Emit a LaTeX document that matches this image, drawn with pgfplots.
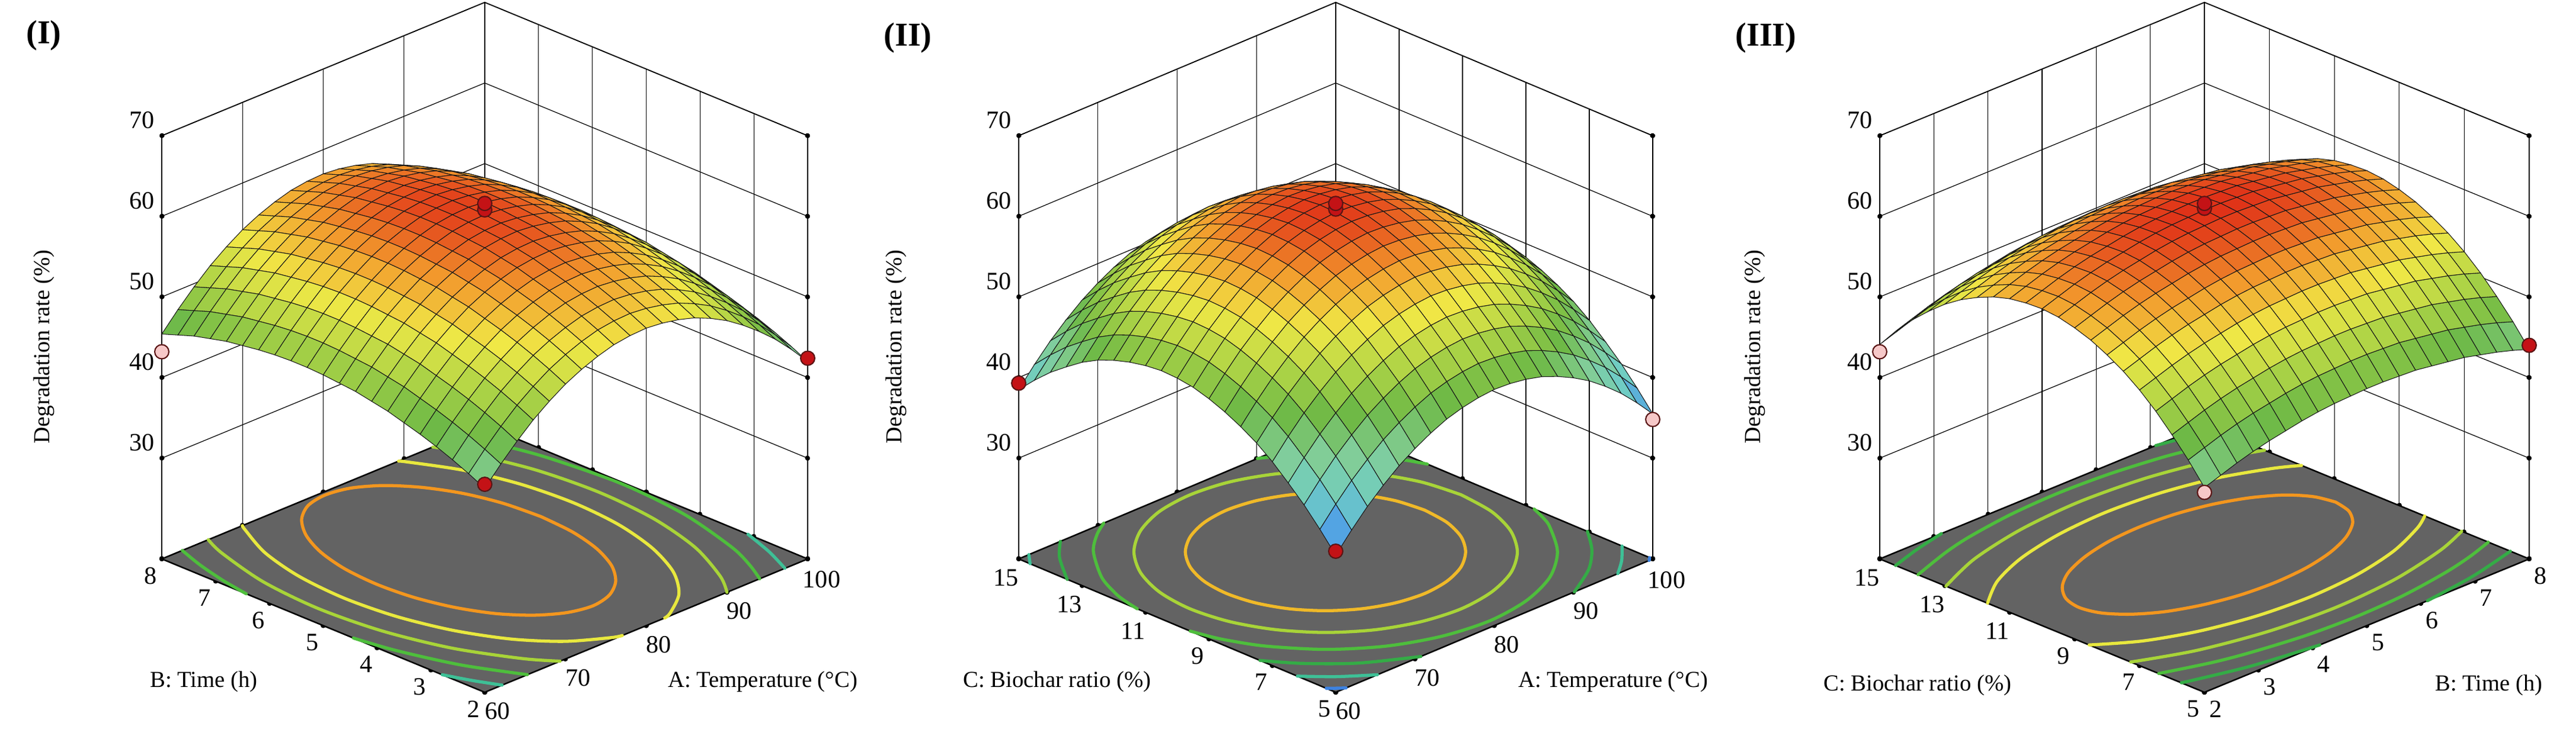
\documentclass[border=0pt]{standalone}
\usepackage{fontspec}
\setmainfont{Liberation Serif}
\usepackage{pgfplots}
\pgfplotsset{compat=1.18}
\definecolor{floorgray}{RGB}{99,99,99}
\definecolor{ptred}{RGB}{196,18,22}
\definecolor{ptpink}{RGB}{246,200,200}
\definecolor{ptedge}{RGB}{90,20,20}
\definecolor{cOr}{RGB}{243,150,30}
\definecolor{cOY}{RGB}{240,185,40}
\definecolor{cYe}{RGB}{232,232,62}
\definecolor{cYG}{RGB}{168,212,56}
\definecolor{cGr}{RGB}{78,190,60}
\definecolor{cGd}{RGB}{52,172,70}
\definecolor{cTe}{RGB}{62,192,150}
\definecolor{cBl}{RGB}{60,130,225}
\pgfplotsset{
  colormap={dx}{rgb255=(55,85,205) rgb255=(80,160,230) rgb255=(112,205,195) rgb255=(130,205,150) rgb255=(110,185,70) rgb255=(175,212,70) rgb255=(240,232,70) rgb255=(242,155,45) rgb255=(222,40,22)},
  rsm/.style={
    at={(0,0)}, anchor=north,
    clip=false,
    zmin=17.5, zmax=70, ztick={30,40,50,60,70},
    grid=major,
    major grid style={black, line width=0.35pt},
    axis line style={black, line width=0.5pt},
    tick pos=left,
    tick style={black, line width=2.3pt, line cap=round},
    major tick length=0.2pt,
    tick label style={font=\fontsize{12}{14}\selectfont},
    /pgf/number format/assume math mode=true,
    colormap name=dx,
    point meta min=33, point meta max=61,
    zticklabel style={yshift=0.26cm},
  },
  ctr/.style={smooth, line width=1.5pt, line cap=round},
  flr/.style={fill=floorgray, draw=black, line width=0.7pt},
  srf/.style={surf, shader=faceted, faceted color=black!90, line width=0.3pt, z buffer=sort, mesh/rows=21, mesh/cols=21},
  dpt/.style={only marks, mark=*, mark size=3.4pt, mark options={draw=ptedge, line width=0.6pt, fill=#1}},
}
\begin{document}
\begin{tikzpicture}
%% ---------------- Panel I ----------------
\begin{scope}[shift={(8.18,-0.04)}]
\begin{axis}[rsm,
  x={(0.13625cm,0.05625cm)}, y={(-0.90833cm,0.375cm)}, z={(0cm,0.136cm)},
  xmin=60, xmax=100, ymin=2, ymax=8,
  xtick={60,70,80,90,100}, ytick={2,3,4,5,6,7,8}]
\addplot3[flr] coordinates {(60,2,17.5) (100,2,17.5) (100,8,17.5) (60,8,17.5) (60,2,17.5)};
\addplot3[ctr, color=cOr] coordinates {(89.83,5.43,17.5) (89.48,6.08,17.5) (88.47,6.68,17.5) (86.85,7.19,17.5) (84.75,7.59,17.5) (82.30,7.84,17.5) (79.67,7.92,17.5) (77.04,7.84,17.5) (74.59,7.59,17.5) (72.48,7.19,17.5) (70.87,6.68,17.5) (69.85,6.08,17.5) (69.51,5.43,17.5) (69.85,4.79,17.5) (70.87,4.19,17.5) (72.48,3.67,17.5) (74.59,3.28,17.5) (77.04,3.03,17.5) (79.67,2.94,17.5) (82.30,3.03,17.5) (84.75,3.28,17.5) (86.85,3.67,17.5) (88.47,4.19,17.5) (89.48,4.79,17.5) (89.83,5.43,17.5)};
\addplot3[ctr, color=cYe] coordinates {(70.00,8.00,17.5) (69.59,7.90,17.5) (67.32,7.18,17.5) (65.90,6.34,17.5) (65.41,5.43,17.5) (65.90,4.53,17.5) (67.32,3.69,17.5) (69.59,2.96,17.5) (72.54,2.41,17.5) (75.98,2.06,17.5) (77.04,2.00,17.5)};
\addplot3[ctr, color=cYe] coordinates {(82.29,2.00,17.5) (83.36,2.06,17.5) (86.79,2.41,17.5) (89.75,2.96,17.5) (92.01,3.69,17.5) (93.44,4.53,17.5) (93.92,5.43,17.5) (93.44,6.34,17.5) (92.01,7.18,17.5) (89.75,7.90,17.5) (89.33,8.00,17.5)};
\addplot3[ctr, color=cYG] coordinates {(65.76,8.00,17.5) (64.59,7.57,17.5) (62.85,6.54,17.5) (62.25,5.43,17.5) (62.85,4.33,17.5) (64.59,3.30,17.5) (67.35,2.42,17.5) (69.33,2.00,17.5)};
\addplot3[ctr, color=cYG] coordinates {(90.00,2.00,17.5) (91.98,2.42,17.5) (94.75,3.30,17.5) (96.49,4.33,17.5) (97.08,5.43,17.5) (96.49,6.54,17.5) (94.75,7.57,17.5) (93.57,8.00,17.5)};
\addplot3[ctr, color=cGr] coordinates {(62.54,8.00,17.5) (61.47,7.51,17.5) (60.57,6.95,17.5) (60.00,6.43,17.5)};
\addplot3[ctr, color=cGr] coordinates {(60.00,4.44,17.5) (60.80,3.75,17.5) (62.64,2.83,17.5) (65.29,2.00,17.5)};
\addplot3[ctr, color=cGr] coordinates {(94.05,2.00,17.5) (95.49,2.40,17.5) (97.06,2.97,17.5) (99.06,4.16,17.5) (99.75,5.43,17.5) (99.06,6.71,17.5) (98.01,7.43,17.5) (96.80,8.00,17.5)};
\addplot3[ctr, color=cTe] coordinates {(60.00,2.79,17.5) (61.00,2.38,17.5) (62.15,2.00,17.5)};
\addplot3[ctr, color=cTe] coordinates {(97.18,2.00,17.5) (98.69,2.52,17.5) (100.00,3.11,17.5)};
\addplot3[ctr, color=cTe] coordinates {(100.00,7.75,17.5) (99.50,8.00,17.5)};
\addplot3[srf] coordinates {
(60,2,42.8) (62,2,45.0) (64,2,47.0) (66,2,48.8) (68,2,50.3) (70,2,51.6) (72,2,52.6) (74,2,53.4) (76,2,54.0) (78,2,54.3) (80,2,54.4) (82,2,54.2) (84,2,53.8) (86,2,53.2) (88,2,52.3) (90,2,51.2) (92,2,49.8) (94,2,48.2) (96,2,46.4) (98,2,44.3) (100,2,42.0)
(60,2.3,43.8) (62,2.3,46.0) (64,2.3,48.0) (66,2.3,49.8) (68,2.3,51.3) (70,2.3,52.6) (72,2.3,53.6) (74,2.3,54.4) (76,2.3,55.0) (78,2.3,55.3) (80,2.3,55.4) (82,2.3,55.2) (84,2.3,54.8) (86,2.3,54.2) (88,2.3,53.3) (90,2.3,52.2) (92,2.3,50.8) (94,2.3,49.2) (96,2.3,47.4) (98,2.3,45.3) (100,2.3,43.0)
(60,2.6,44.7) (62,2.6,46.9) (64,2.6,48.9) (66,2.6,50.7) (68,2.6,52.2) (70,2.6,53.5) (72,2.6,54.5) (74,2.6,55.3) (76,2.6,55.9) (78,2.6,56.2) (80,2.6,56.3) (82,2.6,56.1) (84,2.6,55.7) (86,2.6,55.1) (88,2.6,54.2) (90,2.6,53.1) (92,2.6,51.7) (94,2.6,50.1) (96,2.6,48.3) (98,2.6,46.2) (100,2.6,43.9)
(60,2.9,45.5) (62,2.9,47.7) (64,2.9,49.7) (66,2.9,51.5) (68,2.9,53.0) (70,2.9,54.3) (72,2.9,55.3) (74,2.9,56.1) (76,2.9,56.7) (78,2.9,57.0) (80,2.9,57.1) (82,2.9,56.9) (84,2.9,56.5) (86,2.9,55.9) (88,2.9,55.0) (90,2.9,53.9) (92,2.9,52.5) (94,2.9,50.9) (96,2.9,49.1) (98,2.9,47.0) (100,2.9,44.7)
(60,3.2,46.2) (62,3.2,48.4) (64,3.2,50.4) (66,3.2,52.2) (68,3.2,53.7) (70,3.2,55.0) (72,3.2,56.0) (74,3.2,56.8) (76,3.2,57.4) (78,3.2,57.7) (80,3.2,57.8) (82,3.2,57.6) (84,3.2,57.2) (86,3.2,56.6) (88,3.2,55.7) (90,3.2,54.6) (92,3.2,53.2) (94,3.2,51.6) (96,3.2,49.8) (98,3.2,47.7) (100,3.2,45.4)
(60,3.5,46.8) (62,3.5,49.0) (64,3.5,51.0) (66,3.5,52.8) (68,3.5,54.3) (70,3.5,55.6) (72,3.5,56.6) (74,3.5,57.4) (76,3.5,58.0) (78,3.5,58.3) (80,3.5,58.4) (82,3.5,58.2) (84,3.5,57.8) (86,3.5,57.2) (88,3.5,56.3) (90,3.5,55.2) (92,3.5,53.8) (94,3.5,52.2) (96,3.5,50.4) (98,3.5,48.3) (100,3.5,46.0)
(60,3.8,47.4) (62,3.8,49.6) (64,3.8,51.6) (66,3.8,53.4) (68,3.8,54.9) (70,3.8,56.2) (72,3.8,57.2) (74,3.8,58.0) (76,3.8,58.6) (78,3.8,58.9) (80,3.8,59.0) (82,3.8,58.8) (84,3.8,58.4) (86,3.8,57.8) (88,3.8,56.9) (90,3.8,55.8) (92,3.8,54.4) (94,3.8,52.8) (96,3.8,51.0) (98,3.8,48.9) (100,3.8,46.6)
(60,4.1,47.8) (62,4.1,50.0) (64,4.1,52.0) (66,4.1,53.8) (68,4.1,55.3) (70,4.1,56.6) (72,4.1,57.6) (74,4.1,58.4) (76,4.1,59.0) (78,4.1,59.3) (80,4.1,59.4) (82,4.1,59.2) (84,4.1,58.8) (86,4.1,58.2) (88,4.1,57.3) (90,4.1,56.2) (92,4.1,54.8) (94,4.1,53.2) (96,4.1,51.4) (98,4.1,49.3) (100,4.1,47.0)
(60,4.4,48.2) (62,4.4,50.4) (64,4.4,52.4) (66,4.4,54.2) (68,4.4,55.7) (70,4.4,57.0) (72,4.4,58.0) (74,4.4,58.8) (76,4.4,59.4) (78,4.4,59.7) (80,4.4,59.8) (82,4.4,59.6) (84,4.4,59.2) (86,4.4,58.6) (88,4.4,57.7) (90,4.4,56.6) (92,4.4,55.2) (94,4.4,53.6) (96,4.4,51.8) (98,4.4,49.7) (100,4.4,47.4)
(60,4.7,48.4) (62,4.7,50.6) (64,4.7,52.6) (66,4.7,54.4) (68,4.7,55.9) (70,4.7,57.2) (72,4.7,58.2) (74,4.7,59.0) (76,4.7,59.6) (78,4.7,59.9) (80,4.7,60.0) (82,4.7,59.8) (84,4.7,59.4) (86,4.7,58.8) (88,4.7,57.9) (90,4.7,56.8) (92,4.7,55.4) (94,4.7,53.8) (96,4.7,52.0) (98,4.7,49.9) (100,4.7,47.6)
(60,5,48.6) (62,5,50.8) (64,5,52.8) (66,5,54.6) (68,5,56.1) (70,5,57.4) (72,5,58.4) (74,5,59.2) (76,5,59.8) (78,5,60.1) (80,5,60.2) (82,5,60.0) (84,5,59.6) (86,5,59.0) (88,5,58.1) (90,5,57.0) (92,5,55.6) (94,5,54.0) (96,5,52.2) (98,5,50.1) (100,5,47.8)
(60,5.3,48.7) (62,5.3,50.9) (64,5.3,52.9) (66,5.3,54.7) (68,5.3,56.2) (70,5.3,57.5) (72,5.3,58.5) (74,5.3,59.3) (76,5.3,59.9) (78,5.3,60.2) (80,5.3,60.3) (82,5.3,60.1) (84,5.3,59.7) (86,5.3,59.1) (88,5.3,58.2) (90,5.3,57.1) (92,5.3,55.7) (94,5.3,54.1) (96,5.3,52.3) (98,5.3,50.2) (100,5.3,47.9)
(60,5.6,48.7) (62,5.6,50.9) (64,5.6,52.9) (66,5.6,54.7) (68,5.6,56.2) (70,5.6,57.5) (72,5.6,58.5) (74,5.6,59.3) (76,5.6,59.9) (78,5.6,60.2) (80,5.6,60.3) (82,5.6,60.1) (84,5.6,59.7) (86,5.6,59.1) (88,5.6,58.2) (90,5.6,57.1) (92,5.6,55.7) (94,5.6,54.1) (96,5.6,52.3) (98,5.6,50.2) (100,5.6,47.9)
(60,5.9,48.6) (62,5.9,50.8) (64,5.9,52.8) (66,5.9,54.6) (68,5.9,56.1) (70,5.9,57.4) (72,5.9,58.4) (74,5.9,59.2) (76,5.9,59.8) (78,5.9,60.1) (80,5.9,60.2) (82,5.9,60.0) (84,5.9,59.6) (86,5.9,59.0) (88,5.9,58.1) (90,5.9,57.0) (92,5.9,55.6) (94,5.9,54.0) (96,5.9,52.2) (98,5.9,50.1) (100,5.9,47.8)
(60,6.2,48.4) (62,6.2,50.6) (64,6.2,52.6) (66,6.2,54.4) (68,6.2,55.9) (70,6.2,57.2) (72,6.2,58.2) (74,6.2,59.0) (76,6.2,59.6) (78,6.2,59.9) (80,6.2,60.0) (82,6.2,59.8) (84,6.2,59.4) (86,6.2,58.8) (88,6.2,57.9) (90,6.2,56.8) (92,6.2,55.4) (94,6.2,53.8) (96,6.2,52.0) (98,6.2,49.9) (100,6.2,47.6)
(60,6.5,48.1) (62,6.5,50.3) (64,6.5,52.3) (66,6.5,54.1) (68,6.5,55.6) (70,6.5,56.9) (72,6.5,57.9) (74,6.5,58.7) (76,6.5,59.3) (78,6.5,59.6) (80,6.5,59.7) (82,6.5,59.5) (84,6.5,59.1) (86,6.5,58.5) (88,6.5,57.6) (90,6.5,56.5) (92,6.5,55.1) (94,6.5,53.5) (96,6.5,51.7) (98,6.5,49.6) (100,6.5,47.3)
(60,6.8,47.8) (62,6.8,50.0) (64,6.8,52.0) (66,6.8,53.8) (68,6.8,55.3) (70,6.8,56.6) (72,6.8,57.6) (74,6.8,58.4) (76,6.8,59.0) (78,6.8,59.3) (80,6.8,59.4) (82,6.8,59.2) (84,6.8,58.8) (86,6.8,58.2) (88,6.8,57.3) (90,6.8,56.2) (92,6.8,54.8) (94,6.8,53.2) (96,6.8,51.4) (98,6.8,49.3) (100,6.8,47.0)
(60,7.1,47.3) (62,7.1,49.5) (64,7.1,51.5) (66,7.1,53.3) (68,7.1,54.8) (70,7.1,56.1) (72,7.1,57.1) (74,7.1,57.9) (76,7.1,58.5) (78,7.1,58.8) (80,7.1,58.9) (82,7.1,58.7) (84,7.1,58.3) (86,7.1,57.7) (88,7.1,56.8) (90,7.1,55.7) (92,7.1,54.3) (94,7.1,52.7) (96,7.1,50.9) (98,7.1,48.8) (100,7.1,46.5)
(60,7.4,46.8) (62,7.4,49.0) (64,7.4,51.0) (66,7.4,52.8) (68,7.4,54.3) (70,7.4,55.6) (72,7.4,56.6) (74,7.4,57.4) (76,7.4,58.0) (78,7.4,58.3) (80,7.4,58.4) (82,7.4,58.2) (84,7.4,57.8) (86,7.4,57.2) (88,7.4,56.3) (90,7.4,55.2) (92,7.4,53.8) (94,7.4,52.2) (96,7.4,50.4) (98,7.4,48.3) (100,7.4,46.0)
(60,7.7,46.1) (62,7.7,48.3) (64,7.7,50.3) (66,7.7,52.1) (68,7.7,53.6) (70,7.7,54.9) (72,7.7,55.9) (74,7.7,56.7) (76,7.7,57.3) (78,7.7,57.6) (80,7.7,57.7) (82,7.7,57.5) (84,7.7,57.1) (86,7.7,56.5) (88,7.7,55.6) (90,7.7,54.5) (92,7.7,53.1) (94,7.7,51.5) (96,7.7,49.7) (98,7.7,47.6) (100,7.7,45.3)
(60,8,45.4) (62,8,47.6) (64,8,49.6) (66,8,51.4) (68,8,52.9) (70,8,54.2) (72,8,55.2) (74,8,56.0) (76,8,56.6) (78,8,56.9) (80,8,57.0) (82,8,56.8) (84,8,56.4) (86,8,55.8) (88,8,54.9) (90,8,53.8) (92,8,52.4) (94,8,50.8) (96,8,49.0) (98,8,46.9) (100,8,44.6)
};
\addplot3[dpt=ptpink] coordinates {(60,8,43.2)};
\addplot3[dpt=ptred] coordinates {(100,2,42.4) (60,2,43.3) (80,5,60.8) (80,5,61.6)};
\end{axis}
\end{scope}
%% ---------------- Panel II ----------------
\begin{scope}[shift={(22.54,-0.04)}]
\begin{axis}[rsm,
  x={(0.13375cm,0.05625cm)}, y={(-0.535cm,0.225cm)}, z={(0cm,0.136cm)},
  xmin=60, xmax=100, ymin=5, ymax=15,
  xtick={60,70,80,90,100}, ytick={5,7,9,11,13,15}]
\addplot3[flr] coordinates {(60,5,17.5) (100,5,17.5) (100,15,17.5) (60,15,17.5) (60,5,17.5)};
\addplot3[ctr, color=cOY] coordinates {(92.93,10.43,17.5) (92.50,11.24,17.5) (91.25,11.99,17.5) (89.27,12.64,17.5) (86.68,13.13,17.5) (83.66,13.44,17.5) (80.43,13.55,17.5) (77.19,13.44,17.5) (74.18,13.13,17.5) (71.59,12.64,17.5) (69.60,11.99,17.5) (68.35,11.24,17.5) (67.93,10.43,17.5) (68.35,9.62,17.5) (69.60,8.86,17.5) (71.59,8.22,17.5) (74.18,7.72,17.5) (77.19,7.41,17.5) (80.43,7.30,17.5) (83.66,7.41,17.5) (86.68,7.72,17.5) (89.27,8.22,17.5) (91.25,8.86,17.5) (92.50,9.62,17.5) (92.93,10.43,17.5)};
\addplot3[ctr, color=cYG] coordinates {(97.53,10.43,17.5) (96.94,11.53,17.5) (95.24,12.56,17.5) (92.52,13.45,17.5) (88.98,14.13,17.5) (84.85,14.56,17.5) (80.43,14.70,17.5) (76.00,14.56,17.5) (71.88,14.13,17.5) (68.34,13.45,17.5) (65.62,12.56,17.5) (63.91,11.53,17.5) (63.33,10.43,17.5) (63.91,9.32,17.5) (65.62,8.29,17.5) (68.34,7.40,17.5) (71.88,6.72,17.5) (76.00,6.30,17.5) (80.43,6.15,17.5) (84.85,6.30,17.5) (88.98,6.72,17.5) (92.52,7.40,17.5) (95.24,8.29,17.5) (96.94,9.32,17.5) (97.53,10.43,17.5)};
\addplot3[ctr, color=cGr] coordinates {(100.00,12.11,17.5) (99.34,12.53,17.5) (98.35,13.01,17.5) (95.06,14.09,17.5) (92.30,14.67,17.5) (90.12,15.00,17.5)};
\addplot3[ctr, color=cGr] coordinates {(70.73,15.00,17.5) (68.55,14.67,17.5) (65.79,14.09,17.5) (62.50,13.01,17.5) (60.97,12.20,17.5) (60.43,11.77,17.5) (60.00,11.26,17.5)};
\addplot3[ctr, color=cGr] coordinates {(60.00,9.59,17.5) (60.43,9.09,17.5) (60.97,8.66,17.5) (62.50,7.84,17.5) (65.79,6.77,17.5) (70.08,5.94,17.5) (75.07,5.43,17.5) (80.43,5.25,17.5) (85.78,5.43,17.5) (90.78,5.94,17.5) (95.06,6.77,17.5) (98.35,7.84,17.5) (99.34,8.32,17.5) (100.00,8.74,17.5)};
\addplot3[ctr, color=cGd] coordinates {(100.00,13.80,17.5) (98.09,14.40,17.5) (95.59,15.00,17.5)};
\addplot3[ctr, color=cGd] coordinates {(65.26,15.00,17.5) (62.76,14.40,17.5) (60.00,13.47,17.5)};
\addplot3[ctr, color=cGd] coordinates {(60.00,7.39,17.5) (62.22,6.61,17.5) (65.79,5.74,17.5) (70.74,5.00,17.5)};
\addplot3[ctr, color=cGd] coordinates {(90.11,5.00,17.5) (94.40,5.62,17.5) (97.52,6.30,17.5) (100.00,7.06,17.5)};
\addplot3[ctr, color=cTe] coordinates {(100.00,14.88,17.5) (99.57,15.00,17.5)};
\addplot3[ctr, color=cTe] coordinates {(61.28,15.00,17.5) (60.00,14.64,17.5)};
\addplot3[ctr, color=cTe] coordinates {(60.00,6.21,17.5) (62.37,5.58,17.5) (65.26,5.00,17.5)};
\addplot3[ctr, color=cTe] coordinates {(95.59,5.00,17.5) (97.80,5.43,17.5) (100.00,5.97,17.5)};
\addplot3[ctr, color=cBl] coordinates {(60.00,5.30,17.5) (60.62,5.15,17.5) (61.30,5.00,17.5)};
\addplot3[ctr, color=cBl] coordinates {(99.55,5.00,17.5) (100.00,5.10,17.5)};
\addplot3[srf] coordinates {
(60,5,34.5) (62,5,36.8) (64,5,38.9) (66,5,40.7) (68,5,42.3) (70,5,43.6) (72,5,44.7) (74,5,45.6) (76,5,46.2) (78,5,46.6) (80,5,46.8) (82,5,46.7) (84,5,46.4) (86,5,45.9) (88,5,45.1) (90,5,44.1) (92,5,42.9) (94,5,41.4) (96,5,39.7) (98,5,37.7) (100,5,35.5)
(60,5.5,36.9) (62,5.5,39.2) (64,5.5,41.3) (66,5.5,43.1) (68,5.5,44.7) (70,5.5,46.0) (72,5.5,47.1) (74,5.5,48.0) (76,5.5,48.6) (78,5.5,49.0) (80,5.5,49.2) (82,5.5,49.1) (84,5.5,48.8) (86,5.5,48.3) (88,5.5,47.5) (90,5.5,46.5) (92,5.5,45.3) (94,5.5,43.8) (96,5.5,42.1) (98,5.5,40.1) (100,5.5,37.9)
(60,6,39.1) (62,6,41.4) (64,6,43.5) (66,6,45.3) (68,6,46.9) (70,6,48.2) (72,6,49.3) (74,6,50.2) (76,6,50.8) (78,6,51.2) (80,6,51.4) (82,6,51.3) (84,6,51.0) (86,6,50.5) (88,6,49.7) (90,6,48.7) (92,6,47.5) (94,6,46.0) (96,6,44.3) (98,6,42.3) (100,6,40.1)
(60,6.5,41.0) (62,6.5,43.3) (64,6.5,45.4) (66,6.5,47.2) (68,6.5,48.8) (70,6.5,50.1) (72,6.5,51.2) (74,6.5,52.1) (76,6.5,52.7) (78,6.5,53.1) (80,6.5,53.3) (82,6.5,53.2) (84,6.5,52.9) (86,6.5,52.4) (88,6.5,51.6) (90,6.5,50.6) (92,6.5,49.4) (94,6.5,47.9) (96,6.5,46.2) (98,6.5,44.2) (100,6.5,42.0)
(60,7,42.8) (62,7,45.1) (64,7,47.2) (66,7,49.0) (68,7,50.6) (70,7,51.9) (72,7,53.0) (74,7,53.9) (76,7,54.5) (78,7,54.9) (80,7,55.1) (82,7,55.0) (84,7,54.7) (86,7,54.2) (88,7,53.4) (90,7,52.4) (92,7,51.2) (94,7,49.7) (96,7,48.0) (98,7,46.0) (100,7,43.8)
(60,7.5,44.3) (62,7.5,46.6) (64,7.5,48.7) (66,7.5,50.5) (68,7.5,52.1) (70,7.5,53.4) (72,7.5,54.5) (74,7.5,55.4) (76,7.5,56.0) (78,7.5,56.4) (80,7.5,56.6) (82,7.5,56.5) (84,7.5,56.2) (86,7.5,55.7) (88,7.5,54.9) (90,7.5,53.9) (92,7.5,52.7) (94,7.5,51.2) (96,7.5,49.5) (98,7.5,47.5) (100,7.5,45.3)
(60,8,45.5) (62,8,47.8) (64,8,49.9) (66,8,51.7) (68,8,53.3) (70,8,54.6) (72,8,55.7) (74,8,56.6) (76,8,57.2) (78,8,57.6) (80,8,57.8) (82,8,57.7) (84,8,57.4) (86,8,56.9) (88,8,56.1) (90,8,55.1) (92,8,53.9) (94,8,52.4) (96,8,50.7) (98,8,48.7) (100,8,46.5)
(60,8.5,46.5) (62,8.5,48.8) (64,8.5,50.9) (66,8.5,52.7) (68,8.5,54.3) (70,8.5,55.6) (72,8.5,56.7) (74,8.5,57.6) (76,8.5,58.2) (78,8.5,58.6) (80,8.5,58.8) (82,8.5,58.7) (84,8.5,58.4) (86,8.5,57.9) (88,8.5,57.1) (90,8.5,56.1) (92,8.5,54.9) (94,8.5,53.4) (96,8.5,51.7) (98,8.5,49.7) (100,8.5,47.5)
(60,9,47.3) (62,9,49.6) (64,9,51.7) (66,9,53.5) (68,9,55.1) (70,9,56.4) (72,9,57.5) (74,9,58.4) (76,9,59.0) (78,9,59.4) (80,9,59.6) (82,9,59.5) (84,9,59.2) (86,9,58.7) (88,9,57.9) (90,9,56.9) (92,9,55.7) (94,9,54.2) (96,9,52.5) (98,9,50.5) (100,9,48.3)
(60,9.5,47.9) (62,9.5,50.2) (64,9.5,52.3) (66,9.5,54.1) (68,9.5,55.7) (70,9.5,57.0) (72,9.5,58.1) (74,9.5,59.0) (76,9.5,59.6) (78,9.5,60.0) (80,9.5,60.2) (82,9.5,60.1) (84,9.5,59.8) (86,9.5,59.3) (88,9.5,58.5) (90,9.5,57.5) (92,9.5,56.3) (94,9.5,54.8) (96,9.5,53.1) (98,9.5,51.1) (100,9.5,48.9)
(60,10,48.2) (62,10,50.5) (64,10,52.6) (66,10,54.4) (68,10,56.0) (70,10,57.3) (72,10,58.4) (74,10,59.3) (76,10,59.9) (78,10,60.3) (80,10,60.5) (82,10,60.4) (84,10,60.1) (86,10,59.6) (88,10,58.8) (90,10,57.8) (92,10,56.6) (94,10,55.1) (96,10,53.4) (98,10,51.4) (100,10,49.2)
(60,10.5,48.3) (62,10.5,50.6) (64,10.5,52.7) (66,10.5,54.5) (68,10.5,56.1) (70,10.5,57.4) (72,10.5,58.5) (74,10.5,59.4) (76,10.5,60.0) (78,10.5,60.4) (80,10.5,60.6) (82,10.5,60.5) (84,10.5,60.2) (86,10.5,59.7) (88,10.5,58.9) (90,10.5,57.9) (92,10.5,56.7) (94,10.5,55.2) (96,10.5,53.5) (98,10.5,51.5) (100,10.5,49.3)
(60,11,48.1) (62,11,50.4) (64,11,52.5) (66,11,54.3) (68,11,55.9) (70,11,57.2) (72,11,58.3) (74,11,59.2) (76,11,59.8) (78,11,60.2) (80,11,60.4) (82,11,60.3) (84,11,60.0) (86,11,59.5) (88,11,58.7) (90,11,57.7) (92,11,56.5) (94,11,55.0) (96,11,53.3) (98,11,51.3) (100,11,49.1)
(60,11.5,47.7) (62,11.5,50.0) (64,11.5,52.1) (66,11.5,53.9) (68,11.5,55.5) (70,11.5,56.8) (72,11.5,57.9) (74,11.5,58.8) (76,11.5,59.4) (78,11.5,59.8) (80,11.5,60.0) (82,11.5,59.9) (84,11.5,59.6) (86,11.5,59.1) (88,11.5,58.3) (90,11.5,57.3) (92,11.5,56.1) (94,11.5,54.6) (96,11.5,52.9) (98,11.5,50.9) (100,11.5,48.7)
(60,12,47.1) (62,12,49.4) (64,12,51.5) (66,12,53.3) (68,12,54.9) (70,12,56.2) (72,12,57.3) (74,12,58.2) (76,12,58.8) (78,12,59.2) (80,12,59.4) (82,12,59.3) (84,12,59.0) (86,12,58.5) (88,12,57.7) (90,12,56.7) (92,12,55.5) (94,12,54.0) (96,12,52.3) (98,12,50.3) (100,12,48.1)
(60,12.5,46.3) (62,12.5,48.6) (64,12.5,50.7) (66,12.5,52.5) (68,12.5,54.1) (70,12.5,55.4) (72,12.5,56.5) (74,12.5,57.4) (76,12.5,58.0) (78,12.5,58.4) (80,12.5,58.6) (82,12.5,58.5) (84,12.5,58.2) (86,12.5,57.7) (88,12.5,56.9) (90,12.5,55.9) (92,12.5,54.7) (94,12.5,53.2) (96,12.5,51.5) (98,12.5,49.5) (100,12.5,47.3)
(60,13,45.2) (62,13,47.5) (64,13,49.6) (66,13,51.4) (68,13,53.0) (70,13,54.3) (72,13,55.4) (74,13,56.3) (76,13,56.9) (78,13,57.3) (80,13,57.5) (82,13,57.4) (84,13,57.1) (86,13,56.6) (88,13,55.8) (90,13,54.8) (92,13,53.6) (94,13,52.1) (96,13,50.4) (98,13,48.4) (100,13,46.2)
(60,13.5,43.8) (62,13.5,46.1) (64,13.5,48.2) (66,13.5,50.0) (68,13.5,51.6) (70,13.5,52.9) (72,13.5,54.0) (74,13.5,54.9) (76,13.5,55.5) (78,13.5,55.9) (80,13.5,56.1) (82,13.5,56.0) (84,13.5,55.7) (86,13.5,55.2) (88,13.5,54.4) (90,13.5,53.4) (92,13.5,52.2) (94,13.5,50.7) (96,13.5,49.0) (98,13.5,47.0) (100,13.5,44.8)
(60,14,42.3) (62,14,44.6) (64,14,46.7) (66,14,48.5) (68,14,50.1) (70,14,51.4) (72,14,52.5) (74,14,53.4) (76,14,54.0) (78,14,54.4) (80,14,54.6) (82,14,54.5) (84,14,54.2) (86,14,53.7) (88,14,52.9) (90,14,51.9) (92,14,50.7) (94,14,49.2) (96,14,47.5) (98,14,45.5) (100,14,43.3)
(60,14.5,40.5) (62,14.5,42.8) (64,14.5,44.9) (66,14.5,46.7) (68,14.5,48.3) (70,14.5,49.6) (72,14.5,50.7) (74,14.5,51.6) (76,14.5,52.2) (78,14.5,52.6) (80,14.5,52.8) (82,14.5,52.7) (84,14.5,52.4) (86,14.5,51.9) (88,14.5,51.1) (90,14.5,50.1) (92,14.5,48.9) (94,14.5,47.4) (96,14.5,45.7) (98,14.5,43.7) (100,14.5,41.5)
(60,15,38.5) (62,15,40.8) (64,15,42.9) (66,15,44.7) (68,15,46.3) (70,15,47.6) (72,15,48.7) (74,15,49.6) (76,15,50.2) (78,15,50.6) (80,15,50.8) (82,15,50.7) (84,15,50.4) (86,15,49.9) (88,15,49.1) (90,15,48.1) (92,15,46.9) (94,15,45.4) (96,15,43.7) (98,15,41.7) (100,15,39.5)
};
\addplot3[dpt=ptpink] coordinates {(100,5,34.8)};
\addplot3[dpt=ptred] coordinates {(60,15,39.3) (60,5,35.0) (80,10,60.9) (80,10,61.6)};
\end{axis}
\end{scope}
%% ---------------- Panel III ----------------
\begin{scope}[shift={(37.20,-0.04)}]
\begin{axis}[rsm,
  x={(0.91333cm,0.375cm)}, y={(-0.548cm,0.225cm)}, z={(0cm,0.136cm)},
  xmin=2, xmax=8, ymin=5, ymax=15,
  xtick={2,3,4,5,6,7,8}, ytick={5,7,9,11,13,15}]
\addplot3[flr] coordinates {(2,5,17.5) (8,5,17.5) (8,15,17.5) (2,15,17.5) (2,5,17.5)};
\addplot3[ctr, color=cOr] coordinates {(7.49,10.11,17.5) (7.41,10.65,17.5) (7.18,11.16,17.5) (6.80,11.59,17.5) (6.31,11.92,17.5) (5.74,12.13,17.5) (5.12,12.20,17.5) (4.51,12.13,17.5) (3.94,11.92,17.5) (3.44,11.59,17.5) (3.07,11.16,17.5) (2.83,10.65,17.5) (2.75,10.11,17.5) (2.83,9.57,17.5) (3.07,9.07,17.5) (3.44,8.64,17.5) (3.94,8.31,17.5) (4.51,8.10,17.5) (5.12,8.03,17.5) (5.74,8.10,17.5) (6.31,8.31,17.5) (6.80,8.64,17.5) (7.18,9.07,17.5) (7.41,9.57,17.5) (7.49,10.11,17.5)};
\addplot3[ctr, color=cYe] coordinates {(8.00,12.01,17.5) (7.66,12.35,17.5) (6.92,12.85,17.5) (6.05,13.16,17.5) (5.12,13.27,17.5) (4.19,13.16,17.5) (3.32,12.85,17.5) (2.58,12.35,17.5) (2.00,11.68,17.5)};
\addplot3[ctr, color=cYe] coordinates {(2.00,8.55,17.5) (2.58,7.88,17.5) (3.32,7.38,17.5) (4.19,7.06,17.5) (5.12,6.95,17.5) (6.05,7.06,17.5) (6.92,7.38,17.5) (7.66,7.88,17.5) (8.00,8.22,17.5)};
\addplot3[ctr, color=cYG] coordinates {(8.00,13.15,17.5) (7.37,13.54,17.5) (6.29,13.93,17.5) (5.12,14.07,17.5) (3.96,13.93,17.5) (2.87,13.54,17.5) (2.00,12.96,17.5)};
\addplot3[ctr, color=cYG] coordinates {(2.00,7.27,17.5) (2.87,6.69,17.5) (3.96,6.30,17.5) (5.12,6.16,17.5) (6.29,6.30,17.5) (7.37,6.69,17.5) (8.00,7.08,17.5)};
\addplot3[ctr, color=cGr] coordinates {(8.00,13.97,17.5) (7.50,14.22,17.5) (6.92,14.45,17.5) (6.03,14.65,17.5) (5.12,14.72,17.5) (4.21,14.65,17.5) (3.33,14.45,17.5) (2.74,14.22,17.5) (2.00,13.82,17.5)};
\addplot3[ctr, color=cGr] coordinates {(2.00,6.41,17.5) (2.74,6.00,17.5) (3.33,5.78,17.5) (4.21,5.57,17.5) (5.12,5.50,17.5) (6.03,5.57,17.5) (6.92,5.78,17.5) (7.50,6.00,17.5) (8.00,6.26,17.5)};
\addplot3[ctr, color=cGd] coordinates {(8.00,14.64,17.5) (7.56,14.84,17.5) (7.10,15.00,17.5)};
\addplot3[ctr, color=cGd] coordinates {(3.14,15.00,17.5) (2.55,14.78,17.5) (2.00,14.51,17.5)};
\addplot3[ctr, color=cGd] coordinates {(2.00,5.71,17.5) (3.01,5.27,17.5) (4.13,5.00,17.5)};
\addplot3[ctr, color=cGd] coordinates {(6.12,5.00,17.5) (7.09,5.22,17.5) (8.00,5.58,17.5)};
\addplot3[srf] coordinates {
(2,5,42.9) (2.3,5,43.6) (2.6,5,44.3) (2.9,5,44.9) (3.2,5,45.4) (3.5,5,45.8) (3.8,5,46.2) (4.1,5,46.5) (4.4,5,46.7) (4.7,5,46.8) (5,5,46.9) (5.3,5,46.9) (5.6,5,46.8) (5.9,5,46.7) (6.2,5,46.4) (6.5,5,46.1) (6.8,5,45.8) (7.1,5,45.3) (7.4,5,44.8) (7.7,5,44.2) (8,5,43.5)
(2,5.5,45.5) (2.3,5.5,46.2) (2.6,5.5,46.9) (2.9,5.5,47.5) (3.2,5.5,48.0) (3.5,5.5,48.4) (3.8,5.5,48.8) (4.1,5.5,49.1) (4.4,5.5,49.3) (4.7,5.5,49.4) (5,5.5,49.5) (5.3,5.5,49.5) (5.6,5.5,49.4) (5.9,5.5,49.3) (6.2,5.5,49.0) (6.5,5.5,48.7) (6.8,5.5,48.4) (7.1,5.5,47.9) (7.4,5.5,47.4) (7.7,5.5,46.8) (8,5.5,46.1)
(2,6,47.8) (2.3,6,48.5) (2.6,6,49.2) (2.9,6,49.8) (3.2,6,50.3) (3.5,6,50.7) (3.8,6,51.1) (4.1,6,51.4) (4.4,6,51.6) (4.7,6,51.7) (5,6,51.8) (5.3,6,51.8) (5.6,6,51.7) (5.9,6,51.6) (6.2,6,51.3) (6.5,6,51.0) (6.8,6,50.7) (7.1,6,50.2) (7.4,6,49.7) (7.7,6,49.1) (8,6,48.4)
(2,6.5,49.9) (2.3,6.5,50.6) (2.6,6.5,51.3) (2.9,6.5,51.9) (3.2,6.5,52.4) (3.5,6.5,52.8) (3.8,6.5,53.2) (4.1,6.5,53.5) (4.4,6.5,53.7) (4.7,6.5,53.8) (5,6.5,53.9) (5.3,6.5,53.9) (5.6,6.5,53.8) (5.9,6.5,53.7) (6.2,6.5,53.4) (6.5,6.5,53.1) (6.8,6.5,52.8) (7.1,6.5,52.3) (7.4,6.5,51.8) (7.7,6.5,51.2) (8,6.5,50.5)
(2,7,51.7) (2.3,7,52.4) (2.6,7,53.1) (2.9,7,53.7) (3.2,7,54.2) (3.5,7,54.6) (3.8,7,55.0) (4.1,7,55.3) (4.4,7,55.5) (4.7,7,55.6) (5,7,55.7) (5.3,7,55.7) (5.6,7,55.6) (5.9,7,55.5) (6.2,7,55.2) (6.5,7,54.9) (6.8,7,54.6) (7.1,7,54.1) (7.4,7,53.6) (7.7,7,53.0) (8,7,52.3)
(2,7.5,53.2) (2.3,7.5,53.9) (2.6,7.5,54.6) (2.9,7.5,55.2) (3.2,7.5,55.7) (3.5,7.5,56.1) (3.8,7.5,56.5) (4.1,7.5,56.8) (4.4,7.5,57.0) (4.7,7.5,57.1) (5,7.5,57.2) (5.3,7.5,57.2) (5.6,7.5,57.1) (5.9,7.5,57.0) (6.2,7.5,56.7) (6.5,7.5,56.4) (6.8,7.5,56.1) (7.1,7.5,55.6) (7.4,7.5,55.1) (7.7,7.5,54.5) (8,7.5,53.8)
(2,8,54.4) (2.3,8,55.1) (2.6,8,55.8) (2.9,8,56.4) (3.2,8,56.9) (3.5,8,57.3) (3.8,8,57.7) (4.1,8,58.0) (4.4,8,58.2) (4.7,8,58.3) (5,8,58.4) (5.3,8,58.4) (5.6,8,58.3) (5.9,8,58.2) (6.2,8,57.9) (6.5,8,57.6) (6.8,8,57.3) (7.1,8,56.8) (7.4,8,56.3) (7.7,8,55.7) (8,8,55.0)
(2,8.5,55.4) (2.3,8.5,56.1) (2.6,8.5,56.8) (2.9,8.5,57.4) (3.2,8.5,57.9) (3.5,8.5,58.3) (3.8,8.5,58.7) (4.1,8.5,59.0) (4.4,8.5,59.2) (4.7,8.5,59.3) (5,8.5,59.4) (5.3,8.5,59.4) (5.6,8.5,59.3) (5.9,8.5,59.2) (6.2,8.5,58.9) (6.5,8.5,58.6) (6.8,8.5,58.3) (7.1,8.5,57.8) (7.4,8.5,57.3) (7.7,8.5,56.7) (8,8.5,56.0)
(2,9,56.1) (2.3,9,56.8) (2.6,9,57.5) (2.9,9,58.1) (3.2,9,58.6) (3.5,9,59.0) (3.8,9,59.4) (4.1,9,59.7) (4.4,9,59.9) (4.7,9,60.0) (5,9,60.1) (5.3,9,60.1) (5.6,9,60.0) (5.9,9,59.9) (6.2,9,59.6) (6.5,9,59.3) (6.8,9,59.0) (7.1,9,58.5) (7.4,9,58.0) (7.7,9,57.4) (8,9,56.7)
(2,9.5,56.6) (2.3,9.5,57.3) (2.6,9.5,58.0) (2.9,9.5,58.6) (3.2,9.5,59.1) (3.5,9.5,59.5) (3.8,9.5,59.9) (4.1,9.5,60.2) (4.4,9.5,60.4) (4.7,9.5,60.5) (5,9.5,60.6) (5.3,9.5,60.6) (5.6,9.5,60.5) (5.9,9.5,60.4) (6.2,9.5,60.1) (6.5,9.5,59.8) (6.8,9.5,59.5) (7.1,9.5,59.0) (7.4,9.5,58.5) (7.7,9.5,57.9) (8,9.5,57.2)
(2,10,56.8) (2.3,10,57.5) (2.6,10,58.2) (2.9,10,58.8) (3.2,10,59.3) (3.5,10,59.7) (3.8,10,60.1) (4.1,10,60.4) (4.4,10,60.6) (4.7,10,60.7) (5,10,60.8) (5.3,10,60.8) (5.6,10,60.7) (5.9,10,60.6) (6.2,10,60.3) (6.5,10,60.0) (6.8,10,59.7) (7.1,10,59.2) (7.4,10,58.7) (7.7,10,58.1) (8,10,57.4)
(2,10.5,56.7) (2.3,10.5,57.4) (2.6,10.5,58.1) (2.9,10.5,58.7) (3.2,10.5,59.2) (3.5,10.5,59.6) (3.8,10.5,60.0) (4.1,10.5,60.3) (4.4,10.5,60.5) (4.7,10.5,60.6) (5,10.5,60.7) (5.3,10.5,60.7) (5.6,10.5,60.6) (5.9,10.5,60.5) (6.2,10.5,60.2) (6.5,10.5,59.9) (6.8,10.5,59.6) (7.1,10.5,59.1) (7.4,10.5,58.6) (7.7,10.5,58.0) (8,10.5,57.3)
(2,11,56.4) (2.3,11,57.1) (2.6,11,57.8) (2.9,11,58.4) (3.2,11,58.9) (3.5,11,59.3) (3.8,11,59.7) (4.1,11,60.0) (4.4,11,60.2) (4.7,11,60.3) (5,11,60.4) (5.3,11,60.4) (5.6,11,60.3) (5.9,11,60.2) (6.2,11,59.9) (6.5,11,59.6) (6.8,11,59.3) (7.1,11,58.8) (7.4,11,58.3) (7.7,11,57.7) (8,11,57.0)
(2,11.5,55.8) (2.3,11.5,56.5) (2.6,11.5,57.2) (2.9,11.5,57.8) (3.2,11.5,58.3) (3.5,11.5,58.7) (3.8,11.5,59.1) (4.1,11.5,59.4) (4.4,11.5,59.6) (4.7,11.5,59.7) (5,11.5,59.8) (5.3,11.5,59.8) (5.6,11.5,59.7) (5.9,11.5,59.6) (6.2,11.5,59.3) (6.5,11.5,59.0) (6.8,11.5,58.7) (7.1,11.5,58.2) (7.4,11.5,57.7) (7.7,11.5,57.1) (8,11.5,56.4)
(2,12,54.9) (2.3,12,55.6) (2.6,12,56.3) (2.9,12,56.9) (3.2,12,57.4) (3.5,12,57.8) (3.8,12,58.2) (4.1,12,58.5) (4.4,12,58.7) (4.7,12,58.8) (5,12,58.9) (5.3,12,58.9) (5.6,12,58.8) (5.9,12,58.7) (6.2,12,58.4) (6.5,12,58.1) (6.8,12,57.8) (7.1,12,57.3) (7.4,12,56.8) (7.7,12,56.2) (8,12,55.5)
(2,12.5,53.8) (2.3,12.5,54.5) (2.6,12.5,55.2) (2.9,12.5,55.8) (3.2,12.5,56.3) (3.5,12.5,56.7) (3.8,12.5,57.1) (4.1,12.5,57.4) (4.4,12.5,57.6) (4.7,12.5,57.7) (5,12.5,57.8) (5.3,12.5,57.8) (5.6,12.5,57.7) (5.9,12.5,57.6) (6.2,12.5,57.3) (6.5,12.5,57.0) (6.8,12.5,56.7) (7.1,12.5,56.2) (7.4,12.5,55.7) (7.7,12.5,55.1) (8,12.5,54.4)
(2,13,52.4) (2.3,13,53.1) (2.6,13,53.8) (2.9,13,54.4) (3.2,13,54.9) (3.5,13,55.3) (3.8,13,55.7) (4.1,13,56.0) (4.4,13,56.2) (4.7,13,56.3) (5,13,56.4) (5.3,13,56.4) (5.6,13,56.3) (5.9,13,56.2) (6.2,13,55.9) (6.5,13,55.6) (6.8,13,55.3) (7.1,13,54.8) (7.4,13,54.3) (7.7,13,53.7) (8,13,53.0)
(2,13.5,50.7) (2.3,13.5,51.4) (2.6,13.5,52.1) (2.9,13.5,52.7) (3.2,13.5,53.2) (3.5,13.5,53.6) (3.8,13.5,54.0) (4.1,13.5,54.3) (4.4,13.5,54.5) (4.7,13.5,54.6) (5,13.5,54.7) (5.3,13.5,54.7) (5.6,13.5,54.6) (5.9,13.5,54.5) (6.2,13.5,54.2) (6.5,13.5,53.9) (6.8,13.5,53.6) (7.1,13.5,53.1) (7.4,13.5,52.6) (7.7,13.5,52.0) (8,13.5,51.3)
(2,14,48.8) (2.3,14,49.5) (2.6,14,50.2) (2.9,14,50.8) (3.2,14,51.3) (3.5,14,51.7) (3.8,14,52.1) (4.1,14,52.4) (4.4,14,52.6) (4.7,14,52.7) (5,14,52.8) (5.3,14,52.8) (5.6,14,52.7) (5.9,14,52.6) (6.2,14,52.3) (6.5,14,52.0) (6.8,14,51.7) (7.1,14,51.2) (7.4,14,50.7) (7.7,14,50.1) (8,14,49.4)
(2,14.5,46.6) (2.3,14.5,47.3) (2.6,14.5,48.0) (2.9,14.5,48.6) (3.2,14.5,49.1) (3.5,14.5,49.5) (3.8,14.5,49.9) (4.1,14.5,50.2) (4.4,14.5,50.4) (4.7,14.5,50.5) (5,14.5,50.6) (5.3,14.5,50.6) (5.6,14.5,50.5) (5.9,14.5,50.4) (6.2,14.5,50.1) (6.5,14.5,49.8) (6.8,14.5,49.5) (7.1,14.5,49.0) (7.4,14.5,48.5) (7.7,14.5,47.9) (8,14.5,47.2)
(2,15,44.1) (2.3,15,44.8) (2.6,15,45.5) (2.9,15,46.1) (3.2,15,46.6) (3.5,15,47.0) (3.8,15,47.4) (4.1,15,47.7) (4.4,15,47.9) (4.7,15,48.0) (5,15,48.1) (5.3,15,48.1) (5.6,15,48.0) (5.9,15,47.9) (6.2,15,47.6) (6.5,15,47.3) (6.8,15,47.0) (7.1,15,46.5) (7.4,15,46.0) (7.7,15,45.4) (8,15,44.7)
};
\addplot3[dpt=ptpink] coordinates {(2,15,43.2) (2,5,42.3)};
\addplot3[dpt=ptred] coordinates {(8,5,44.0) (5,10,61.0) (5,10,61.6)};
\end{axis}
\end{scope}
%% ---------------- Labels ----------------
\begin{scope}[font=\fontsize{11}{13}\selectfont]
\node[rotate=90] at (0.74,-5.85) {Degradation rate (\%)};
\node at (3.44,-11.50) {B: Time (h)};
\node at (12.87,-11.50) {A: Temperature (°C)};
\node[rotate=90] at (15.12,-5.85) {Degradation rate (\%)};
\node at (17.84,-11.50) {C: Biochar ratio (\%)};
\node at (27.22,-11.50) {A: Temperature (°C)};
\node[rotate=90] at (29.61,-5.85) {Degradation rate (\%)};
\node at (32.36,-11.56) {C: Biochar ratio (\%)};
\node at (42.00,-11.56) {B: Time (h)};
\end{scope}
\begin{scope}[font=\bfseries\fontsize{16}{19}\selectfont]
\node at (0.74,-0.60) {(I)};
\node at (15.32,-0.64) {(II)};
\node at (29.80,-0.64) {(III)};
\end{scope}
\pgfresetboundingbox
\useasboundingbox (0,0) rectangle (43.47,-12.62);
\end{tikzpicture}
\end{document}
